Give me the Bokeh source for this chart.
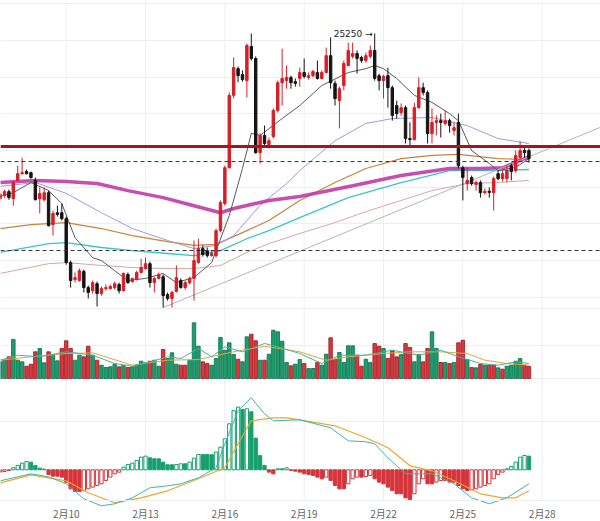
import datetime as dt
from bokeh.plotting import figure
from bokeh.models import Range1d, FixedTicker, Grid, Span, Label, ColumnDataSource
from bokeh.core.properties import value
from bokeh.embed import file_html
from bokeh.resources import INLINE

# ---------------- data (4h candles, BTC/USDT) ----------------
START = "2023-02-07 12:00"
STEP_HOURS = 4

open_ = [22900, 22945, 23000, 22900, 23160, 23255, 23285, 23270, 23160, 22900,
         22885, 22985, 22530, 22700, 22700, 22615, 21990, 21750, 21735, 21865,
         21635, 21590, 21690, 21550, 21620, 21620, 21635, 21680, 21590, 21820,
         21720, 21750, 21850, 21905, 21975, 21705, 21765, 21790, 21535, 21480,
         21580, 21735, 21635, 21705, 21765, 21990, 22190, 22160, 22090, 22090,
         22445, 22830, 23340, 24370, 24750, 24665, 24580, 25065, 24895, 23555,
         23800, 23670, 23785, 24155, 24550, 24580, 24625, 24565, 24610, 24695,
         24625, 24650, 24695, 24610, 24695, 24935, 24540, 24295, 24510, 24795,
         24925, 24965, 24910, 24865, 24925, 25010, 24650, 24580, 24650, 24480,
         24225, 24125, 24195, 23755, 23740, 24195, 24480, 24410, 23825, 23985,
         24010, 23970, 24010, 23870, 23985, 23340, 23115, 23200, 23100, 23130,
         22985, 23005, 22985, 23255, 23185, 23185, 23370, 23300, 23485, 23585,
         23585]
high = [22985, 23030, 23030, 23160, 23370, 23485, 23315, 23285, 23200, 23060,
        23060, 23015, 22730, 22800, 22830, 22645, 22020, 21850, 21905, 21890,
        21665, 21735, 21720, 21650, 21680, 21680, 21720, 21705, 21850, 21850,
        21775, 21875, 22045, 22060, 22005, 21790, 21850, 21820, 21565, 21590,
        21950, 21765, 21735, 21790, 22305, 22330, 22235, 22205, 22160, 22475,
        22875, 23370, 24410, 24910, 24780, 24725, 25108, 25250, 24925, 23830,
        23940, 23770, 24185, 24580, 25035, 24795, 24650, 24610, 24765, 24895,
        24695, 24735, 24865, 24725, 25050, 25195, 24580, 24495, 24865, 25120,
        25120, 25010, 24935, 24980, 25080, 25250, 24680, 24665, 24765, 24510,
        24295, 24255, 24225, 23985, 24265, 24625, 24550, 24440, 24185, 24085,
        24110, 24155, 24040, 23985, 24110, 23370, 23340, 23230, 23160, 23160,
        23045, 23060, 23215, 23300, 23300, 23370, 23400, 23585, 23715, 23655,
        23615]
low = [22875, 22915, 22885, 22800, 23145, 23245, 23245, 23185, 22875, 22690,
       22860, 22505, 22375, 22645, 22590, 21960, 21635, 21705, 21720, 21565,
       21480, 21550, 21365, 21520, 21590, 21605, 21605, 21550, 21580, 21690,
       21705, 21735, 21835, 21890, 21635, 21565, 21750, 21350, 21450, 21350,
       21565, 21620, 21605, 21680, 21450, 21975, 22075, 22060, 22075, 22060,
       22420, 22800, 23330, 24325, 24555, 24565, 24340, 24865, 23540, 23400,
       23630, 23615, 23755, 24125, 24225, 24465, 24465, 24495, 24495, 24610,
       24595, 24625, 24595, 24595, 24680, 24465, 24225, 23900, 24440, 24780,
       24895, 24680, 24835, 24835, 24895, 24580, 24440, 24325, 24195, 24010,
       24040, 24080, 23685, 23630, 23730, 24180, 24370, 23685, 23685, 23800,
       23770, 23940, 23840, 23800, 23330, 22875, 23015, 23085, 23015, 22915,
       22960, 22915, 22730, 23160, 23145, 23130, 23160, 23270, 23440, 23485,
       23415]
close = [22960, 23000, 22915, 23130, 23255, 23270, 23255, 23200, 22885, 22975,
         22985, 22515, 22690, 22675, 22615, 21990, 21735, 21775, 21875, 21635,
         21565, 21705, 21550, 21620, 21635, 21650, 21690, 21590, 21835, 21705,
         21765, 21850, 21920, 21975, 21705, 21765, 21820, 21520, 21480, 21565,
         21775, 21635, 21705, 21765, 22020, 22190, 22105, 22090, 22120, 22445,
         22845, 23340, 24370, 24765, 24650, 24595, 25080, 24895, 23555, 23800,
         23685, 23725, 24155, 24550, 24610, 24625, 24550, 24540, 24695, 24640,
         24650, 24710, 24610, 24695, 24935, 24550, 24325, 24465, 24825, 25010,
         24965, 24895, 24865, 24935, 25010, 24610, 24580, 24640, 24480, 24085,
         24110, 24195, 23755, 23740, 24195, 24480, 24410, 23825, 23985, 24010,
         23985, 24010, 23940, 23910, 23370, 23200, 23160, 23115, 23130, 22985,
         23005, 22990, 23185, 23185, 23255, 23300, 23285, 23515, 23585, 23555,
         23470]

# volume (thousand BTC) and its colour as read: G = green, R = red
volume = [16.7, 18.3, 21.7, 39.0, 18.3, 16.7, 12.3, 14.3, 26.7, 30.0,
          15.7, 26.7, 23.3, 17.7, 30.0, 37.7, 30.0, 18.3, 23.3, 21.7,
          32.3, 23.3, 18.3, 13.3, 11.0, 11.7, 14.3, 11.7, 13.0, 11.0,
          11.7, 13.3, 17.3, 15.7, 17.3, 18.3, 12.3, 29.0, 20.0, 25.7,
          14.3, 13.3, 13.3, 18.3, 55.7, 32.3, 16.7, 15.0, 13.3, 20.0,
          41.0, 28.3, 35.7, 24.0, 19.3, 16.7, 41.7, 44.3, 37.7, 18.3,
          18.3, 24.3, 48.3, 46.7, 37.3, 16.0, 12.7, 14.3, 19.0, 15.0,
          10.0, 10.0, 16.0, 13.3, 24.3, 40.7, 19.0, 26.0, 16.0, 32.7,
          32.7, 23.3, 12.3, 19.3, 16.0, 35.0, 32.3, 30.0, 20.0, 27.7,
          21.7, 24.0, 35.0, 31.0, 16.7, 24.0, 16.7, 30.0, 46.7, 30.0,
          16.0, 16.0, 15.0, 16.0, 35.7, 38.3, 19.0, 11.0, 10.7, 14.3,
          13.3, 13.3, 13.3, 10.7, 9.3, 12.3, 13.3, 17.3, 20.0, 13.3,
          12.0]
volume_side = ("GGRGGGRRRGGRGGRRRGGRRGRGGGGRGRGGGGRGGRGGGRRGGGRRGGGGGGRGGRRGRGGGGGRGG"
               "RGGRGGRRGGGGRRGGRRGRRRGRRGGRRGGRGRGRRGRGRGRRGRGGGGRR")

# MACD histogram, DIF and DEA
macd_hist = [-28, -20, -8, 24, 52, 80, 100, 92, 52, 20,
             8, -56, -76, -76, -88, -148, -228, -260, -260, -248,
             -228, -208, -188, -168, -128, -88, -48, -28, 32, 64,
             80, 112, 152, 164, 144, 132, 132, 92, 60, 60,
             64, 72, 72, 92, 140, 184, 184, 184, 180, 212,
             272, 372, 552, 710, 752, 724, 732, 696, 380, 170,
             52, -28, -48, 12, 12, 24, -8, -16, -28, -48,
             -56, -68, -88, -108, -88, -128, -188, -228, -228, -168,
             -108, -88, -88, -80, -68, -108, -148, -168, -208, -248,
             -288, -288, -336, -360, -288, -168, -108, -168, -168, -148,
             -128, -128, -148, -148, -188, -228, -248, -240, -228, -208,
             -188, -168, -108, -56, -28, 12, 40, 92, 152, 172,
             164]
dif_idx = [0, 7, 11, 15, 19, 23, 26, 30, 34, 38, 41, 45, 49, 51, 54, 57, 60, 62, 68, 75,
           79, 83, 85, 88, 92, 98, 103, 107, 111, 115, 120]
dif_val = [-132, -48, -84, -168, -348, -432, -408, -336, -216, -192, -168, -96, 24, 312, 708,
           864, 672, 588, 600, 504, 348, 336, 312, 144, -48, -48, -168, -336, -408, -336, -168]
dea_idx = [0, 7, 15, 20, 26, 32, 38, 45, 51, 54, 57, 62, 65, 68, 76, 83, 88, 93, 98, 103,
           109, 114, 117, 120]
dea_val = [-156, -60, -132, -276, -396, -336, -252, -108, 24, 312, 588, 624, 624, 600, 528,
           384, 264, 48, -12, -132, -288, -336, -336, -252]

# volume moving averages
vma5_idx = [0, 4, 9, 15, 21, 26, 30, 34, 38, 41, 45, 48, 51, 55, 60, 63, 68, 73, 77, 83,
            89, 95, 100, 104, 109, 113, 117, 120]
vma5_val = [18.3, 23.3, 21.7, 26.7, 23.3, 15, 12.3, 16.7, 21.7, 20, 30, 21.7, 31.7, 26.7,
            35, 31.7, 25, 15, 23.3, 23.3, 28.3, 23.3, 28.3, 21.7, 15, 13.3, 16.7, 15]
vma10_idx = [0, 7, 15, 21, 30, 38, 45, 53, 60, 68, 74, 79, 87, 93, 100, 106, 110, 115, 120]
vma10_val = [18.3, 21.7, 25, 25.7, 13.3, 18.3, 19, 26.7, 32.3, 26.7, 18.3, 21.7, 25, 26.7,
             26.7, 25, 18.3, 15, 13.3]

# price moving averages
ma_gray_idx = [0, 3, 7, 11, 14, 17, 21, 23, 26, 29, 33, 37, 40, 44, 48, 52, 55, 57, 59, 64,
               68, 73, 79, 83, 85, 87, 90, 94, 98, 102, 104, 107, 111, 113, 117, 120]
ma_gray_val = [22930, 22985, 23130, 23015, 22830, 22345, 22060, 22020, 21875, 21735, 21765,
               21835, 21705, 21780, 21990, 22660, 23330, 23830, 23800, 24040, 24225, 24510,
               24695, 24750, 24795, 24750, 24610, 24370, 24270, 24110, 24010, 23585, 23400,
               23300, 23345, 23470]
ma_purple_idx = [0, 8, 15, 23, 30, 38, 44, 49, 53, 59, 65, 68, 76, 83, 89, 98, 106, 113, 120]
ma_purple_val = [23075, 23130, 22975, 22700, 22475, 22305, 22190, 22235, 22375, 22805, 23115,
                 23300, 23725, 23970, 24040, 24055, 23940, 23755, 23685]
ma_orange_idx = [0, 7, 15, 23, 30, 38, 44, 49, 56, 61, 68, 76, 83, 91, 98, 104, 113, 120]
ma_orange_val = [22475, 22530, 22560, 22475, 22375, 22290, 22235, 22250, 22445, 22590, 22875,
                 23130, 23330, 23470, 23515, 23530, 23470, 23455]
ma_cyan_idx = [0, 11, 15, 23, 30, 38, 44, 50, 56, 61, 68, 79, 91, 102, 113, 120]
ma_cyan_val = [22135, 22260, 22275, 22205, 22160, 22120, 22090, 22160, 22330, 22445, 22630,
               22915, 23130, 23300, 23300, 23315]
ma_pink_idx = [0, 11, 15, 23, 30, 38, 44, 50, 56, 61, 68, 76, 83, 91, 98, 106, 113, 120]
ma_pink_val = [21835, 21975, 21990, 21950, 21920, 21905, 21905, 21950, 22135, 22260, 22405,
               22560, 22715, 22875, 23015, 23115, 23130, 23160]
ma_magenta_idx = [0, 8, 15, 22, 29, 37, 44, 50, 53, 61, 68, 80, 91, 102, 109, 114, 117, 120]
ma_magenta_val = [23130, 23160, 23145, 23115, 23015, 22915, 22800, 22700, 22760, 22875, 22930,
                  23085, 23230, 23330, 23330, 23340, 23415, 23500]

# drawn levels and trend line
resistance_level = 23642
dashed_levels = [23428, 22162]
trend_idx = [37, 136.2]
trend_price = [21350, 23915]
high_mark = 25250
high_mark_idx = 85

tick_dates = ["2023-02-10", "2023-02-13", "2023-02-16", "2023-02-19",
              "2023-02-22", "2023-02-25", "2023-02-28"]
price_grid = [25673, 25151, 24629, 24108, 23585, 23063, 22542, 22020, 21498, 21337]
volume_grid = [33, 0]
macd_grid = [580]

# ---------------- layout (px of the 521 px tall frame) ----------------
PRICE_TOP, PRICE_PER_PX = 25720, 14.23
VOL_ZERO_PX = 378
MACD_ZERO_PX, MACD_PER_PX = 469.3, 12.0
PANEL_BOTTOM_PX = 500
LABEL_BOTTOM_PX = 520.5
FRAME_H = 521


def macd_at(px):
    return (MACD_ZERO_PX - px) * MACD_PER_PX


# ---------------- derived ----------------
t0 = dt.datetime.fromisoformat(START)


def to_index(d):
    return (dt.datetime.fromisoformat(d) - t0).total_seconds() / 3600.0 / STEP_HOURS


n = len(close)
xs = list(range(n))
tick_pos = [to_index(d) for d in tick_dates]
tick_txt = []
for d in tick_dates:
    dd = dt.datetime.fromisoformat(d)
    tick_txt.append(f"{dd.month}月{dd.day}")

UP, DOWN = "#d71f27", "#141414"
cdl_color = [UP if c >= o else DOWN for o, c in zip(open_, close)]
src = ColumnDataSource(dict(
    x=xs, h=high, l=low,
    top=[max(o, c) for o, c in zip(open_, close)],
    bot=[min(o, c) for o, c in zip(open_, close)],
    color=cdl_color))

p = figure(width=600, height=FRAME_H, output_backend="svg", toolbar_location=None,
           x_range=Range1d(0.09, 136.24),
           y_range=Range1d(PRICE_TOP - FRAME_H * PRICE_PER_PX, PRICE_TOP),
           x_axis_location=None, y_axis_location=None,
           min_border_left=0, min_border_right=0, min_border_top=0, min_border_bottom=0,
           background_fill_color="white", border_fill_color="white")
p.extra_y_ranges = {"vol": Range1d(VOL_ZERO_PX - FRAME_H, VOL_ZERO_PX),
                    "macd": Range1d(macd_at(FRAME_H), macd_at(0))}
p.outline_line_color = None
p.xgrid.visible = False
p.ygrid.visible = False

GRID = "#eceff2"
# vertical grid lines, ending at the panel bottom
p.segment(x0=tick_pos, x1=tick_pos, y0=[macd_at(0)] * len(tick_pos),
          y1=[macd_at(PANEL_BOTTOM_PX)] * len(tick_pos), y_range_name="macd",
          line_color=GRID, line_width=1)
p.add_layout(Span(location=macd_at(PANEL_BOTTOM_PX), dimension="width", y_range_name="macd",
                  line_color=GRID, line_width=1))
p.add_layout(Grid(dimension=1, ticker=FixedTicker(ticks=price_grid), grid_line_color=GRID))
p.add_layout(Grid(dimension=1, ticker=FixedTicker(ticks=volume_grid), y_range_name="vol",
                  grid_line_color=GRID))
p.add_layout(Grid(dimension=1, ticker=FixedTicker(ticks=macd_grid), y_range_name="macd",
                  grid_line_color=GRID))

# date labels
p.text(x=tick_pos, y=[macd_at(LABEL_BOTTOM_PX)] * len(tick_pos), text=tick_txt,
       y_range_name="macd", text_align="center", text_baseline="bottom",
       text_font=value("Noto Sans CJK SC"), text_font_size="10px", text_color="#666666")

# moving averages (behind candles)
p.line(ma_pink_idx, ma_pink_val, line_color="#d9a89e", line_width=1)
p.line(ma_cyan_idx, ma_cyan_val, line_color="#38c4cc", line_width=1.3)
p.line(ma_orange_idx, ma_orange_val, line_color="#c98438", line_width=1.2)
p.line(ma_purple_idx, ma_purple_val, line_color="#a497dd", line_width=1)
p.line(ma_magenta_idx, ma_magenta_val, line_color="#c23aa9", line_width=3.5, line_alpha=0.9)
p.line(trend_idx, trend_price, line_color="#b5b5b5", line_width=1)
p.line(ma_gray_idx, ma_gray_val, line_color="#5a5a5a", line_width=1)

p.add_layout(Span(location=resistance_level, dimension="width", line_color="#a8141d",
                  line_width=3))
for lv in dashed_levels:
    p.add_layout(Span(location=lv, dimension="width", line_color="#333333",
                      line_width=1, line_dash="4 3"))

# candles
p.segment(x0="x", y0="h", x1="x", y1="l", line_color="color", line_width=1, source=src)
p.vbar(x="x", width=0.55, top="top", bottom="bot", fill_color="color", line_color="color",
       line_width=1, source=src)

p.add_layout(Label(x=high_mark_idx, y=high_mark, text=f"{high_mark} →", x_offset=-2,
                   text_align="right", text_baseline="middle", text_font="DejaVu Sans",
                   text_font_size="9px", text_color="#222222"))

# volume
VG_FILL, VG_LINE, VR_FILL, VR_LINE = "#1c9d6e", "#0c6d4a", "#d9373e", "#9e161d"
vfill = [VG_FILL if s == "G" else VR_FILL for s in volume_side]
vline = [VG_LINE if s == "G" else VR_LINE for s in volume_side]
p.vbar(x=xs, width=0.8, top=volume, bottom=0, y_range_name="vol",
       fill_color=vfill, line_color=vline, line_width=0.8)
p.line(vma10_idx, vma10_val, y_range_name="vol", line_color="#e6a53a", line_width=1)
p.line(vma5_idx, vma5_val, y_range_name="vol", line_color="#45b3a6", line_width=1)

# MACD
MG, MR = "#15a06c", "#d5343b"
mfill, mline = [], []
for i, hv in enumerate(macd_hist):
    col = MG if hv >= 0 else MR
    rising = i == 0 or hv > macd_hist[i - 1]
    mfill.append("white" if rising else col)
    mline.append(col)
p.vbar(x=xs, width=0.75, top=[max(hv, 0) for hv in macd_hist],
       bottom=[min(hv, 0) for hv in macd_hist], y_range_name="macd",
       fill_color=mfill, line_color=mline, line_width=1)
p.line(dea_idx, dea_val, y_range_name="macd", line_color="#f0a62a", line_width=1.2)
p.line(dif_idx, dif_val, y_range_name="macd", line_color="#3fb3b6", line_width=1)

open("out.html", "w").write(file_html(p, INLINE))
